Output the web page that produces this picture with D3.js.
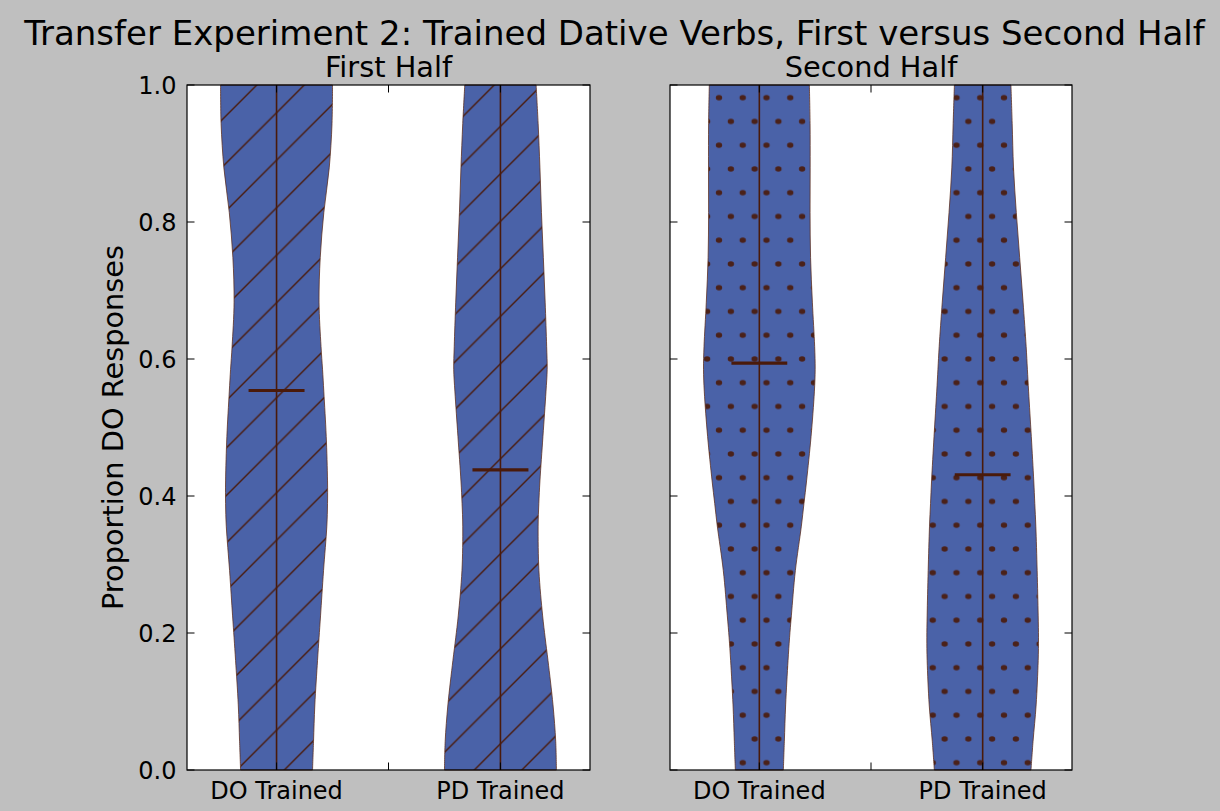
<!DOCTYPE html>
<html>
<head>
<meta charset="utf-8">
<script src="https://cdn.jsdelivr.net/npm/d3@7"></script>
<style>
  html, body { margin: 0; padding: 0; background: #bfbfbf; }
  svg { display: block; }
  text { font-family: "DejaVu Sans", sans-serif; fill: #000; }
</style>
</head>
<body>
<svg id="chart" width="1220" height="811"></svg>
<script>
// ---- data ----
const chartTitle = "Transfer Experiment 2: Trained Dative Verbs, First versus Second Half";
const panelTitles = ["First Half", "Second Half"];
const categories = ["DO Trained", "PD Trained"];
const positions = [1, 2];
const yLabel = "Proportion DO Responses";
const yTicks = [0.0, 0.2, 0.4, 0.6, 0.8, 1.0];

// response proportion at which each density value is estimated
const grid = [0, 0.042, 0.095, 0.160, 0.193, 0.225, 0.291, 0.356, 0.389, 0.422,
              0.487, 0.552, 0.585, 0.618, 0.683, 0.748, 0.814, 0.879, 0.944, 1.0];

// kernel density estimates (relative) for each condition
const densityDOFirst  = [36, 37, 38.3, 41, 42.5, 44, 47, 50.3, 51, 51,
                         49.7, 47.3, 46, 44.5, 42.5, 43.7, 47.3, 52.7, 55.5, 56];
const densityPDFirst  = [55.7, 55, 52.3, 47.3, 44.5, 42, 38.3, 37.5, 38.2, 39.3,
                         42.3, 45.3, 46.5, 46, 44.5, 42.7, 40.8, 39.3, 37.5, 35.5];
const densityDOSecond = [24, 25, 26.3, 28.7, 30.2, 32, 36, 42, 44.6, 47.2,
                         51.7, 55, 55.8, 55.3, 53, 51.2, 50.7, 50.8, 50.7, 50];
const densityPDSecond = [47, 49, 52, 54, 54.3, 54, 53, 51.7, 50.7, 49.7,
                         47.3, 44.7, 43.5, 42.3, 39.3, 36, 32.7, 30, 28.7, 27.5];

const meansFirst  = [0.554, 0.438];
const meansSecond = [0.594, 0.431];

// ---- layout ----
const W = 1220, H = 811;
const axTop = 85, axBottom = 770;
const axes = [
  { x0: 187, x1: 590, title: panelTitles[0], densities: [densityDOFirst, densityPDFirst],
    means: meansFirst, fill: "url(#hatchDiag)", showYLabels: true },
  { x0: 670, x1: 1072, title: panelTitles[1], densities: [densityDOSecond, densityPDSecond],
    means: meansSecond, fill: "url(#hatchDots)", showYLabels: false }
];
const violinWidth = 0.5;
const bodyColor = "#4a62a8";
const lineColor = "#4a1a0a";

const svg = d3.select("#chart");
svg.append("rect").attr("width", W).attr("height", H).attr("fill", "#bfbfbf");

// ---- hatch patterns (anchored to figure coordinates) ----
const defs = svg.append("defs");
const s = 47.5;
const diag = defs.append("pattern")
  .attr("id", "hatchDiag").attr("patternUnits", "userSpaceOnUse")
  .attr("width", s).attr("height", s).attr("x", 9.3).attr("y", 0);
diag.append("rect").attr("width", s).attr("height", s).attr("fill", bodyColor);
[[-s, s, s, -s], [0, s, s, 0], [0, 2 * s, 2 * s, 0]].forEach(d => {
  diag.append("line")
    .attr("x1", d[0]).attr("y1", d[1]).attr("x2", d[2]).attr("y2", d[3])
    .attr("stroke", lineColor).attr("stroke-width", 1.4);
});

const dw = 23.75, dh = 47.5, r = 3;
const dots = defs.append("pattern")
  .attr("id", "hatchDots").attr("patternUnits", "userSpaceOnUse")
  .attr("width", dw).attr("height", dh).attr("x", 6.5).attr("y", 2.7);
dots.append("rect").attr("width", dw).attr("height", dh).attr("fill", bodyColor);
[[0, 0], [dw, 0], [0, dh], [dw, dh], [dw / 2, dh / 2]].forEach(p => {
  dots.append("ellipse").attr("cx", p[0]).attr("cy", p[1])
    .attr("rx", r + 0.2).attr("ry", r - 0.4).attr("fill", lineColor).attr("fill-opacity", 0.9);
});

// ---- shared y scale ----
const y = d3.scaleLinear().domain([0, 1]).range([axBottom, axTop]);

axes.forEach((ax, ai) => {
  const x = d3.scaleLinear().domain([0.6, 2.4]).range([ax.x0, ax.x1]);
  const g = svg.append("g");

  // plotting area
  g.append("rect")
    .attr("x", ax.x0).attr("y", axTop)
    .attr("width", ax.x1 - ax.x0).attr("height", axBottom - axTop)
    .attr("fill", "#ffffff");

  // violins
  ax.densities.forEach((dens, i) => {
    const pos = positions[i];
    const maxD = d3.max(dens);
    const pts = grid.map((v, k) => ({ v, d: dens[k] / maxD * violinWidth / 2 }));
    const area = d3.area()
      .y(p => y(p.v))
      .x0(p => x(pos - p.d))
      .x1(p => x(pos + p.d))
      .curve(d3.curveCatmullRom.alpha(0.5));
    g.append("path")
      .attr("d", area(pts))
      .attr("fill", ax.fill)
      .attr("stroke", "#5a2a18")
      .attr("stroke-opacity", 0.75)
      .attr("stroke-width", 1);

    // extent bar
    g.append("line")
      .attr("x1", x(pos)).attr("x2", x(pos))
      .attr("y1", y(grid[0])).attr("y2", y(grid[grid.length - 1]))
      .attr("stroke", lineColor).attr("stroke-width", 1.6);

    // mean
    g.append("line")
      .attr("x1", x(pos - violinWidth / 4)).attr("x2", x(pos + violinWidth / 4))
      .attr("y1", y(ax.means[i])).attr("y2", y(ax.means[i]))
      .attr("stroke", lineColor).attr("stroke-width", 3.2);
  });

  // ticks (inside, on all four sides)
  const tl = 7.5;
  const xTickVals = [1, 1.5, 2];
  xTickVals.forEach(t => {
    g.append("line").attr("x1", x(t)).attr("x2", x(t))
      .attr("y1", axBottom).attr("y2", axBottom - tl).attr("stroke", "#000");
    g.append("line").attr("x1", x(t)).attr("x2", x(t))
      .attr("y1", axTop).attr("y2", axTop + tl).attr("stroke", "#000");
  });
  yTicks.forEach(t => {
    g.append("line").attr("x1", ax.x0).attr("x2", ax.x0 + tl)
      .attr("y1", y(t)).attr("y2", y(t)).attr("stroke", "#000");
    g.append("line").attr("x1", ax.x1).attr("x2", ax.x1 - tl)
      .attr("y1", y(t)).attr("y2", y(t)).attr("stroke", "#000");
  });

  // frame
  g.append("rect")
    .attr("x", ax.x0).attr("y", axTop)
    .attr("width", ax.x1 - ax.x0).attr("height", axBottom - axTop)
    .attr("fill", "none").attr("stroke", "#000").attr("stroke-width", 1.2);

  // x tick labels
  categories.forEach((c, i) => {
    g.append("text")
      .attr("x", x(positions[i])).attr("y", 798.5)
      .attr("text-anchor", "middle")
      .style("font-size", "24px")
      .text(c);
  });

  // y tick labels
  if (ax.showYLabels) {
    yTicks.forEach(t => {
      g.append("text")
        .attr("x", ax.x0 - 10.5).attr("y", y(t))
        .attr("dy", "0.36em")
        .attr("text-anchor", "end")
        .style("font-size", "24px")
        .text(d3.format(".1f")(t));
    });
  }

  // panel title
  g.append("text")
    .attr("x", (ax.x0 + ax.x1) / 2).attr("y", 77)
    .attr("text-anchor", "middle")
    .style("font-size", "28.8px")
    .text(ax.title);
});

// y axis label
svg.append("text")
  .attr("transform", `translate(123, ${(axTop + axBottom) / 2}) rotate(-90)`)
  .attr("text-anchor", "middle")
  .style("font-size", "28.8px")
  .text(yLabel);

// figure title
svg.append("text")
  .attr("x", 614.5).attr("y", 45)
  .attr("text-anchor", "middle")
  .style("font-size", "34px")
  .text(chartTitle);
</script>
</body>
</html>
